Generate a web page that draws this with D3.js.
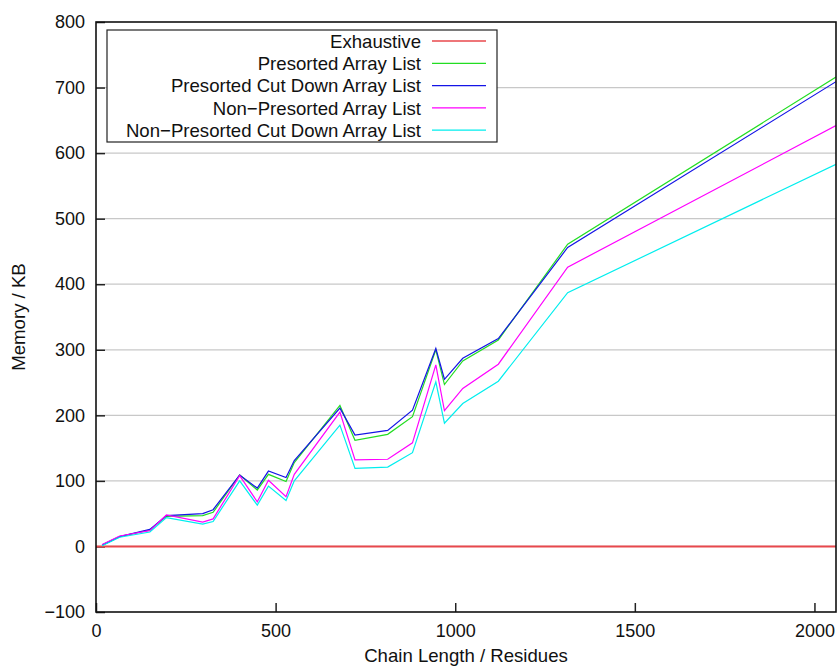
<!DOCTYPE html>
<html>
<head>
<meta charset="utf-8">
<script src="https://cdn.jsdelivr.net/npm/d3@7/dist/d3.min.js"></script>
<style>
  html, body { margin: 0; padding: 0; background: #fff; }
  svg { display: block; font-family: "Liberation Sans", Arial, Helvetica, sans-serif; }
</style>
</head>
<body>
<svg id="chart" width="838" height="666"></svg>
<script>
// Chain length (residues) of each test protein
const chainLengths = [17, 66, 150, 196, 297, 326, 400, 449, 480, 529, 552, 679, 721, 812, 881, 946, 970, 1021, 1120, 1313, 2060];

// Memory use (KB) for each method
const exhaustiveLengths = [0, 17, 2060];
const exhaustive = [0, 0, 0];
const presortedArrayList = [2, 15, 25, 46, 47, 52, 109, 86, 110, 99, 128, 215, 162, 171, 198, 300, 247, 283, 315, 461, 716];
const presortedCutDown = [2, 15, 26, 47, 50, 56, 109, 89, 115, 105, 131, 211, 170, 177, 208, 302, 255, 287, 317, 456, 709];
const nonPresortedArrayList = [3, 16, 24, 48, 37, 42, 108, 68, 101, 76, 110, 205, 132, 133, 158, 277, 207, 241, 278, 426, 642];
const nonPresortedCutDown = [1, 14, 22, 44, 34, 38, 100, 63, 92, 70, 100, 185, 119, 121, 143, 251, 188, 218, 252, 387, 583];

const seriesNames = [
  "Exhaustive",
  "Presorted Array List",
  "Presorted Cut Down Array List",
  "Non\u2212Presorted Array List",
  "Non\u2212Presorted Cut Down Array List"
];
const seriesColors = ["#e8484c", "#22dd22", "#1414e6", "#ff00ff", "#00eeee"];

const xTicks = [0, 500, 1000, 1500, 2000];
const yTicks = [-100, 0, 100, 200, 300, 400, 500, 600, 700, 800];

const series = [
  { xs: exhaustiveLengths, ys: exhaustive, width: 2 },
  { xs: chainLengths, ys: presortedArrayList, width: 1.2 },
  { xs: chainLengths, ys: presortedCutDown, width: 1.2 },
  { xs: chainLengths, ys: nonPresortedArrayList, width: 1.2 },
  { xs: chainLengths, ys: nonPresortedCutDown, width: 1.2 }
].map((s, i) => ({ ...s, name: seriesNames[i], color: seriesColors[i] }));

const svg = d3.select("#chart");
const plot = { left: 96, right: 836, top: 22, bottom: 612 };
const labelSize = 18.6;

const x = d3.scaleLinear().domain([0, 2060]).range([plot.left, plot.right]);
const y = d3.scaleLinear().domain([-100, 800]).range([plot.bottom, plot.top]);

// horizontal grid
svg.append("g")
  .selectAll("line")
  .data(yTicks.filter(t => t > -100 && t < 800))
  .join("line")
  .attr("x1", plot.left).attr("x2", plot.right)
  .attr("y1", d => y(d)).attr("y2", d => y(d))
  .attr("stroke", "#c8c8c8").attr("stroke-width", 1.2);

// y axis: inward ticks, labels on the left
const yAxis = d3.axisLeft(y).tickValues(yTicks).tickSizeInner(-9).tickSizeOuter(0)
  .tickFormat(d => d < 0 ? "\u2212" + Math.abs(d) : String(d));
const gy = svg.append("g").attr("transform", `translate(${plot.left},0)`).call(yAxis);
gy.select(".domain").remove();
gy.selectAll(".tick line").attr("stroke", "#222").attr("stroke-width", 1.5);
gy.selectAll(".tick text").attr("font-size", 18).attr("fill", "#111")
  .attr("x", -11).attr("text-anchor", "end");

// x axis: inward ticks, labels below
const xAxis = d3.axisBottom(x).tickValues(xTicks).tickSizeInner(-9).tickSizeOuter(0)
  .tickFormat(d => String(d));
const gx = svg.append("g").attr("transform", `translate(0,${plot.bottom})`).call(xAxis);
gx.select(".domain").remove();
gx.selectAll(".tick line").attr("stroke", "#222").attr("stroke-width", 1.5);
gx.selectAll(".tick text").attr("font-size", 18).attr("fill", "#111")
  .attr("y", 25).attr("dy", 0);

// data lines, clipped to the plot area
svg.append("clipPath").attr("id", "plotclip")
  .append("rect").attr("x", plot.left).attr("y", plot.top)
  .attr("width", plot.right - plot.left).attr("height", plot.bottom - plot.top);

const gLines = svg.append("g").attr("clip-path", "url(#plotclip)");
series.forEach(s => {
  const line = d3.line().x((d, i) => x(s.xs[i])).y(d => y(d));
  gLines.append("path")
    .datum(s.ys)
    .attr("d", line)
    .attr("fill", "none")
    .attr("stroke", s.color)
    .attr("stroke-width", s.width)
    .attr("stroke-linejoin", "miter");
});

// plot border
svg.append("rect")
  .attr("x", plot.left).attr("y", plot.top)
  .attr("width", plot.right - plot.left).attr("height", plot.bottom - plot.top)
  .attr("fill", "none").attr("stroke", "#111").attr("stroke-width", 1.6);

// legend
const legend = svg.append("g");
legend.append("rect")
  .attr("x", 107).attr("y", 30).attr("width", 390).attr("height", 112)
  .attr("fill", "#fff").attr("stroke", "#222").attr("stroke-width", 1.2);
series.forEach((s, i) => {
  const cy = 41 + i * 22.3;
  legend.append("text")
    .attr("x", 421).attr("y", cy + 6.7)
    .attr("text-anchor", "end").attr("font-size", labelSize).attr("fill", "#111")
    .text(s.name);
  legend.append("line")
    .attr("x1", 432).attr("x2", 486).attr("y1", cy).attr("y2", cy)
    .attr("stroke", s.color).attr("stroke-width", i === 0 ? 1.5 : 1.2);
});

// axis titles
svg.append("text")
  .attr("x", (plot.left + plot.right) / 2).attr("y", 662)
  .attr("text-anchor", "middle").attr("font-size", labelSize).attr("fill", "#111")
  .text("Chain Length / Residues");
svg.append("text")
  .attr("transform", `translate(25,${(plot.top + plot.bottom) / 2}) rotate(-90)`)
  .attr("text-anchor", "middle").attr("font-size", labelSize).attr("fill", "#111")
  .text("Memory / KB");
</script>
</body>
</html>
